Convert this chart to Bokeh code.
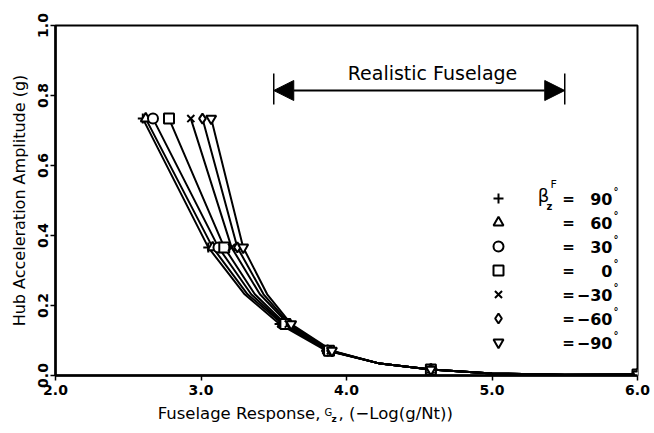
from bokeh.plotting import figure
from bokeh.layouts import column
from bokeh.models import Range1d, Label, Arrow, NormalHead, FixedTicker
from bokeh.embed import file_html
from bokeh.resources import INLINE
from bokeh.core.properties import value

# ---------------- data ----------------
beta_labels = ["90", "60", "30", "0", "\u221230", "\u221260", "\u221290"]
marker_types = ["cross", "triangle", "circle", "square", "x", "diamond", "inverted_triangle"]

# amplitude (g) of the marker rows
amp_rows = [0.734, 0.366, 0.147, 0.071, 0.017, 0.003]
# fuselage response G_z at each marker row, one list per beta
g_p90 = [2.60, 3.05, 3.54, 3.86, 4.58, 6.0]
g_p60 = [2.62, 3.08, 3.56, 3.87, 4.58, 6.0]
g_p30 = [2.67, 3.12, 3.57, 3.87, 4.58, 6.0]
g_0 = [2.78, 3.16, 3.58, 3.88, 4.58, 6.0]
g_m30 = [2.93, 3.21, 3.60, 3.89, 4.58, 6.0]
g_m60 = [3.01, 3.25, 3.61, 3.89, 4.58, 6.0]
g_m90 = [3.07, 3.29, 3.62, 3.90, 4.58, 6.0]
g_series = [g_p90, g_p60, g_p30, g_0, g_m30, g_m60, g_m90]

# extra curve readings between marker rows 2 and 3
amp_mid = 0.232
g_mid = [3.30, 3.32, 3.345, 3.37, 3.405, 3.43, 3.455]
# common tail of all curves
g_tail = [4.23, 5.0, 5.5]
amp_tail = [0.034, 0.006, 0.002]

realistic_range = [3.5, 5.5]

x_ticks = [2.0, 3.0, 4.0, 5.0, 6.0]
y_ticks = [0.0, 0.2, 0.4, 0.6, 0.8, 1.0]

# ---------------- main figure ----------------
W = 650
FL, FR, FT, FB = 55, 637, 25, 375  # frame edges in canvas px
H1 = FB + 27
H2 = 430 - H1

p = figure(width=W, height=H1, output_backend="svg", toolbar_location=None,
           x_range=Range1d(2.0, 6.0), y_range=Range1d(0.0, 1.0),
           min_border_left=FL, min_border_right=W - FR,
           min_border_top=FT, min_border_bottom=H1 - FB)
p.grid.visible = False
p.outline_line_color = "black"
p.outline_line_width = 2
p.background_fill_color = "white"
p.border_fill_color = "white"


def px_x(px):  # canvas px -> data x
    return 2.0 + (px - FL) / (FR - FL) * 4.0


def px_y(py):  # canvas px -> data y
    return (FB - py) / (FB - FT)


for ax in (p.xaxis[0], p.yaxis[0]):
    ax.axis_line_width = 2.5
    ax.axis_line_color = "black"
    ax.major_tick_line_width = 1.5
    ax.major_tick_out = 5
    ax.major_tick_in = 0
    ax.minor_tick_line_color = None
    ax.major_label_text_font = "DejaVu Sans"
    ax.major_label_text_font_style = "bold"
    ax.major_label_text_font_size = "14px"
    ax.major_label_text_color = "black"

p.xaxis.ticker = FixedTicker(ticks=x_ticks)
p.yaxis.ticker = FixedTicker(ticks=y_ticks)
p.xaxis.major_label_overrides = {t: f"{t:.1f}" for t in x_ticks}
p.yaxis.major_label_overrides = {t: f"{t:.1f}" for t in y_ticks}
p.xaxis.major_label_standoff = 4
p.yaxis.major_label_standoff = 3
p.yaxis.major_label_orientation = "parallel"

p.yaxis.axis_label = "Hub Acceleration Amplitude (g)"
p.yaxis.axis_label_text_font = "DejaVu Sans"
p.yaxis.axis_label_text_font_style = "normal"
p.yaxis.axis_label_text_font_size = "16px"
p.yaxis.axis_label_text_color = "black"
p.yaxis.axis_label_standoff = 6

# ---------------- curves and markers ----------------
for g, gm in zip(g_series, g_mid):
    xs = g[:2] + [gm] + g[2:5] + g_tail + g[5:]
    ys = amp_rows[:2] + [amp_mid] + amp_rows[2:5] + amp_tail + amp_rows[5:]
    pts = sorted(zip(xs, ys))
    p.line([a for a, b in pts], [b for a, b in pts], line_color="black", line_width=2)

for g, m in zip(g_series, marker_types):
    p.scatter(g, amp_rows, marker=m, size=10, line_color="black", line_width=2,
              fill_color="white" if m not in ("cross", "x") else None)

# ---------------- legend (custom) ----------------
leg_x = px_x(498)
leg_y0 = px_y(198)
leg_dy = (px_y(198) - px_y(222))
for i, (m, lab) in enumerate(zip(marker_types, beta_labels)):
    yy = leg_y0 - i * leg_dy
    p.scatter([leg_x], [yy], marker=m, size=10, line_color="black", line_width=2,
              fill_color="white" if m not in ("cross", "x") else None)
    p.add_layout(Label(x=px_x(568), y=yy, text="=", text_font="DejaVu Sans",
                       text_font_style="bold", text_font_size="15px", text_color="black",
                       text_align="center", text_baseline="middle"))
    p.add_layout(Label(x=px_x(612), y=yy, text=lab, text_font="DejaVu Sans",
                       text_font_style="bold", text_font_size="16px", text_color="black",
                       text_align="right", text_baseline="middle"))
    p.add_layout(Label(x=px_x(613), y=yy, y_offset=7, text="\u00b0", text_font="DejaVu Sans",
                       text_font_style="bold", text_font_size="10px", text_color="black",
                       text_align="left", text_baseline="middle"))

p.add_layout(Label(x=px_x(543), y=leg_y0, y_offset=3, text="\u03b2", text_font="DejaVu Sans",
                   text_font_size="18px", text_color="black",
                   text_align="center", text_baseline="middle"))
p.add_layout(Label(x=px_x(550), y=leg_y0, y_offset=14, text="F", text_font="DejaVu Sans",
                   text_font_size="11px", text_color="black",
                   text_align="left", text_baseline="middle"))
p.add_layout(Label(x=px_x(546), y=leg_y0, y_offset=-8, text="z", text_font="DejaVu Sans",
                   text_font_style="bold", text_font_size="10px", text_color="black",
                   text_align="left", text_baseline="middle"))

# ---------------- realistic fuselage arrow ----------------
ay = px_y(90)
p.add_layout(Arrow(x_start=realistic_range[0], y_start=ay, x_end=realistic_range[1], y_end=ay,
                   line_width=2, line_color="black",
                   start=NormalHead(size=20, fill_color="black", line_color="black"),
                   end=NormalHead(size=20, fill_color="black", line_color="black")))
p.segment(x0=realistic_range, y0=[px_y(73)] * 2, x1=realistic_range, y1=[px_y(104)] * 2,
          line_color="black", line_width=1.5)
p.add_layout(Label(x=px_x(432), y=px_y(72), text="Realistic Fuselage", text_font="DejaVu Sans",
                   text_font_size="19px", text_color="black",
                   text_align="center", text_baseline="middle"))

# ---------------- bottom strip: x title ----------------
p2 = figure(width=W, height=H2, output_backend="svg", toolbar_location=None,
            x_range=Range1d(2.0, 6.0), y_range=Range1d(H2, 0),
            x_axis_type=None, y_axis_type=None,
            min_border_left=FL, min_border_right=W - FR, min_border_top=0, min_border_bottom=0)
p2.grid.visible = False
p2.outline_line_color = None
p2.background_fill_color = "white"
p2.border_fill_color = "white"

ty = 413 - H1
xt = px_x(320)
p2.text(x=[xt], y=[ty], text=["Fuselage Response,"], text_font=value("DejaVu Sans"),
        text_font_size="16.5px", text_color="black", text_align="right", text_baseline="middle")
p2.text(x=[xt], y=[ty - 1], x_offset=4, text=["G"], text_font=value("DejaVu Sans"),
        text_font_size="10px", text_color="black", text_align="left", text_baseline="middle")
p2.text(x=[xt], y=[ty + 5], x_offset=11, text=["z"], text_font=value("DejaVu Sans"),
        text_font_style="bold", text_font_size="9px", text_color="black",
        text_align="left", text_baseline="middle")
p2.text(x=[xt], y=[ty], x_offset=18, text=[", (\u2212Log(g/Nt))"], text_font=value("DejaVu Sans"),
        text_font_size="16.5px", text_color="black", text_align="left", text_baseline="middle")

layout = column(p, p2, spacing=0)
open("out.html", "w").write(file_html(layout, INLINE))
